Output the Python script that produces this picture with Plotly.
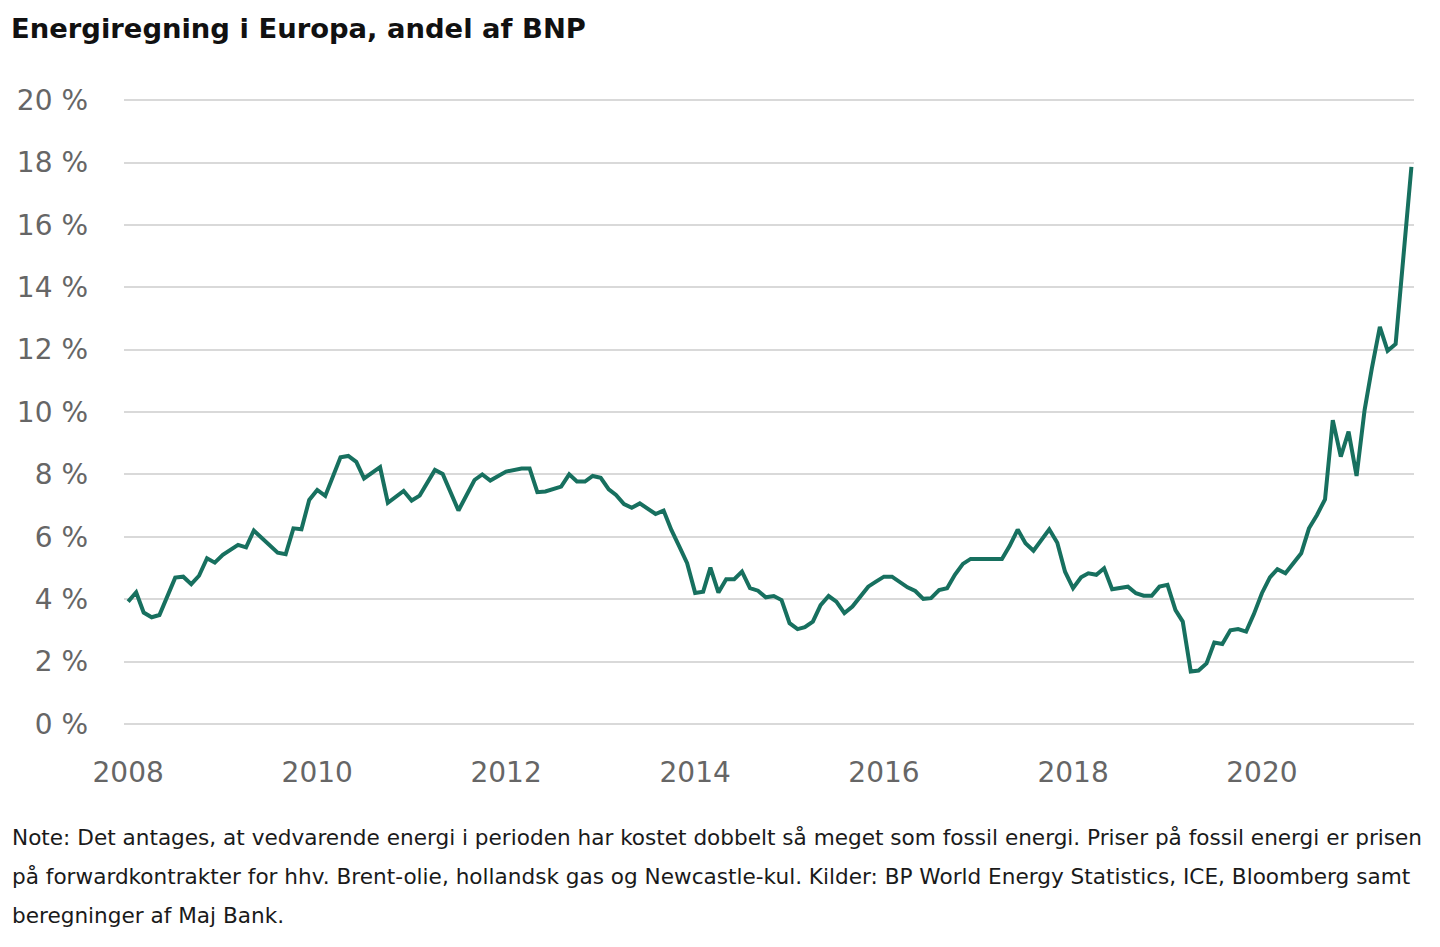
import plotly.graph_objects as go

# ---- data ----
months = [
    "2008-01", "2008-02", "2008-03", "2008-04", "2008-05", "2008-07", "2008-08", "2008-09",
    "2008-10", "2008-11", "2008-12", "2009-01", "2009-03", "2009-04", "2009-05", "2009-08",
    "2009-09", "2009-10", "2009-11", "2009-12", "2010-01", "2010-02", "2010-04", "2010-05",
    "2010-06", "2010-07", "2010-09", "2010-10", "2010-12", "2011-01", "2011-02", "2011-04",
    "2011-05", "2011-07", "2011-09", "2011-10", "2011-11", "2011-12", "2012-01", "2012-03",
    "2012-04", "2012-05", "2012-06", "2012-08", "2012-09", "2012-10", "2012-11", "2012-12",
    "2013-01", "2013-02", "2013-03", "2013-04", "2013-05", "2013-06", "2013-07", "2013-08",
    "2013-09", "2013-10", "2013-11", "2013-12", "2014-01", "2014-02", "2014-03", "2014-04",
    "2014-05", "2014-06", "2014-07", "2014-08", "2014-09", "2014-10", "2014-11", "2014-12",
    "2015-01", "2015-02", "2015-03", "2015-04", "2015-05", "2015-06", "2015-07", "2015-08",
    "2015-09", "2015-11", "2015-12", "2016-01", "2016-02", "2016-03", "2016-04", "2016-05",
    "2016-06", "2016-07", "2016-08", "2016-09", "2016-10", "2016-11", "2016-12", "2017-04",
    "2017-05", "2017-06", "2017-07", "2017-08", "2017-10", "2017-11", "2017-12", "2018-01",
    "2018-02", "2018-03", "2018-04", "2018-05", "2018-06", "2018-08", "2018-09", "2018-10",
    "2018-11", "2018-12", "2019-01", "2019-02", "2019-03", "2019-04", "2019-05", "2019-06",
    "2019-07", "2019-08", "2019-09", "2019-10", "2019-11", "2019-12", "2020-01", "2020-02",
    "2020-03", "2020-04", "2020-05", "2020-06", "2020-07", "2020-08", "2020-09", "2020-10",
    "2020-11", "2020-12", "2021-01", "2021-02", "2021-03", "2021-04", "2021-05", "2021-06",
    "2021-08",
]
energy_share = [
    3.92, 4.22, 3.57, 3.42, 3.49, 4.69, 4.72, 4.48,
    4.75, 5.31, 5.17, 5.42, 5.74, 5.66, 6.20, 5.49,
    5.44, 6.27, 6.24, 7.18, 7.50, 7.31, 8.55, 8.59,
    8.40, 7.87, 8.23, 7.09, 7.47, 7.16, 7.32, 8.14,
    8.01, 6.84, 7.82, 8.00, 7.80, 7.93, 8.09, 8.19,
    8.19, 7.43, 7.45, 7.61, 8.00, 7.77, 7.77, 7.95,
    7.89, 7.52, 7.34, 7.05, 6.93, 7.07, 6.91, 6.73,
    6.84, 6.22, 5.68, 5.15, 4.20, 4.24, 5.01, 4.21,
    4.64, 4.64, 4.88, 4.35, 4.27, 4.06, 4.10, 3.97,
    3.23, 3.04, 3.10, 3.28, 3.81, 4.10, 3.92, 3.55,
    3.76, 4.40, 4.56, 4.72, 4.72, 4.56, 4.38, 4.26,
    4.01, 4.03, 4.29, 4.35, 4.78, 5.13, 5.29, 5.29,
    5.71, 6.23, 5.79, 5.55, 6.24, 5.81, 4.88, 4.35,
    4.70, 4.83, 4.78, 4.99, 4.32, 4.40, 4.19, 4.11,
    4.11, 4.40, 4.46, 3.65, 3.28, 1.68, 1.71, 1.94,
    2.61, 2.56, 3.00, 3.04, 2.96, 3.52, 4.19, 4.70,
    4.96, 4.83, 5.17, 5.47, 6.27, 6.70, 7.20, 9.74,
    8.57, 9.37, 7.95, 10.06, 11.40, 12.73, 11.96, 12.18,
    17.86,
]
y_ticks = [0, 2, 4, 6, 8, 10, 12, 14, 16, 18, 20]
x_tick_years = ["2008", "2010", "2012", "2014", "2016", "2018", "2020"]

title_text = "Energiregning i Europa, andel af BNP"
note_lines = [
    "Note: Det antages, at vedvarende energi i perioden har kostet dobbelt så meget som fossil energi. Priser på fossil energi er prisen",
    "på forwardkontrakter for hhv. Brent-olie, hollandsk gas og Newcastle-kul. Kilder: BP World Energy Statistics, ICE, Bloomberg samt",
    "beregninger af Maj Bank.",
]

# ---- layout geometry (pixels) ----
W, H = 1440, 947
L, R, T, B = 124, 1414, 97, 727
FONT = "DejaVu Sans, Verdana, sans-serif"


def px(xp):
    return (xp - L) / (R - L)


def py(yp):
    return (B - yp) / (B - T)


fig = go.Figure()
fig.add_trace(go.Scatter(
    x=[m + "-01" for m in months],
    y=energy_share,
    mode="lines",
    line=dict(color="#17705f", width=4),
    hoverinfo="x+y",
    showlegend=False,
))

annotations = [
    dict(text="<b>" + title_text + "</b>", xref="paper", yref="paper",
         x=px(9), y=py(29), xanchor="left", yanchor="middle", showarrow=False,
         font=dict(family=FONT, size=27.4, color="#111111")),
]
for i, line in enumerate(note_lines):
    annotations.append(dict(
        text=line, xref="paper", yref="paper",
        x=px(10), y=py(837 + 39 * i), xanchor="left", yanchor="middle", showarrow=False,
        font=dict(family=FONT, size=21.6, color="#1a1a1a"),
    ))

fig.update_layout(
    width=W, height=H,
    margin=dict(l=L, r=W - R, t=T, b=H - B, pad=0),
    paper_bgcolor="white",
    plot_bgcolor="white",
    font=dict(family=FONT, color="#666666"),
    annotations=annotations,
    xaxis=dict(
        type="date",
        range=["2007-12-16", "2021-08-11"],
        tickvals=[y + "-01-01" for y in x_tick_years],
        ticktext=x_tick_years,
        showgrid=False, zeroline=False, showline=False,
        ticks="",
        tickfont=dict(family=FONT, size=28, color="#666666"),
        ticklabelstandoff=26,
        fixedrange=True,
    ),
    yaxis=dict(
        range=[-0.1, 20.1],
        tickvals=y_ticks,
        ticktext=[f"{v} %" for v in y_ticks],
        showgrid=True, gridcolor="#d9d9d9", gridwidth=2,
        zeroline=False, showline=False,
        ticks="",
        tickfont=dict(family=FONT, size=28, color="#666666"),
        ticklabelstandoff=35,
        fixedrange=True,
    ),
)

fig.write_html(
    "out.html",
    config={"displayModeBar": False},
    post_script="document.body.style.margin='0';document.body.style.overflow='hidden';",
)
